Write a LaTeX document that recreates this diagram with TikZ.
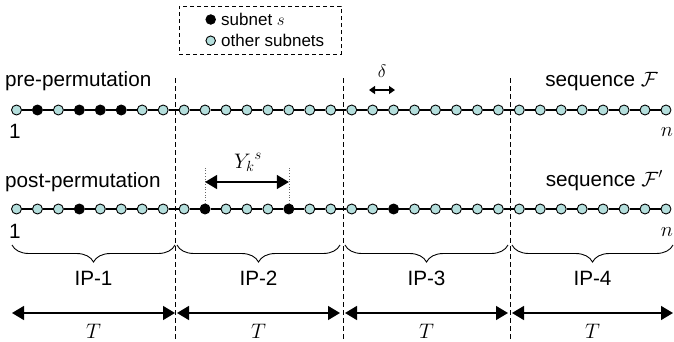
\RequirePackage{fix-cm}
\documentclass[tikz,border=0pt]{standalone}
\usepackage{fontspec}
\setmainfont{Liberation Sans}
\usetikzlibrary{arrows.meta,decorations.pathreplacing}
\definecolor{cyanfill}{RGB}{180,222,220}
\begin{document}
\begin{tikzpicture}[x=1pt,y=-1pt,
  dot/.style={circle,draw=black,line width=0.9pt,fill=cyanfill,minimum size=10pt,inner sep=0pt},
  bdot/.style={dot,fill=black},
  lbl/.style={font=\fontsize{20.7}{24}\selectfont,inner sep=0pt},
  small/.style={font=\fontsize{17}{20}\selectfont,inner sep=0pt},
  tlbl/.style={font=\fontsize{21}{23}\selectfont,inner sep=0pt},
  ylbl/.style={font=\fontsize{21}{23}\selectfont,inner sep=0pt},
  chain/.style={line width=1.2pt},
  dashline/.style={line width=0.9pt,dash pattern=on 5pt off 3pt},
  bigarrow/.style={{Triangle[length=12pt,width=14pt]}-{Triangle[length=12pt,width=14pt]},line width=1.4pt},
  smallarrow/.style={{Triangle[length=6pt,width=8pt]}-{Triangle[length=6pt,width=8pt]},line width=1.3pt},
  bracestyle/.style={decorate,decoration={brace,mirror,amplitude=17pt},line width=0.9pt},
  guide/.style={dotted,line width=0.7pt,black!60}]
\useasboundingbox (0,0) rectangle (674,341);

% dashed separators
\foreach \k/\xx in {1/175,2/343,3/510.5} {
  \coordinate (dtop\k) at (\xx,78);
  \coordinate (dbot\k) at (\xx,341);
  \draw[dashline] (dtop\k) -- (dbot\k);
}

% rows of subnets
\foreach \i in {1,...,32} {
  \def\st{dot}
  \foreach \b in {2,4,5,6} {\ifnum\i=\b\relax\gdef\st{bdot}\fi}
  \node[\st] (r1c\i) at ({16.5+(\i-1)*20.95},110) {};
  \gdef\st{dot}
}
\foreach \i in {1,...,32} {
  \def\st{dot}
  \foreach \b in {4,10,14,19} {\ifnum\i=\b\relax\gdef\st{bdot}\fi}
  \node[\st] (r2c\i) at ({16.5+(\i-1)*20.95},209) {};
  \gdef\st{dot}
}
\foreach \i [evaluate=\i as \j using int(\i+1)] in {1,...,31} {
  \draw[chain] (r1c\i) -- (r1c\j);
  \draw[chain] (r2c\i) -- (r2c\j);
}

% legend
\node[draw,dash pattern=on 4pt off 3pt,line width=0.9pt,minimum width=162pt,minimum height=48pt,inner sep=0pt] (legend) at (260,30) {};
\node[bdot,minimum size=9.5pt] (ldot1) at (210.7,19.5) {};
\node[dot,minimum size=9.5pt] (ldot2) at (210.7,40.7) {};
\node[small,anchor=base west] (ltxt1) at (221,25) {subnet $s$};
\node[small,anchor=base west] (ltxt2) at (221,46) {other subnets};

% row labels
\node[lbl,anchor=base west] (pre) at (5,86) {pre-permutation};
\node[lbl,anchor=base west] (post) at (5,187) {post-permutation};
\node[lbl,anchor=base east] (seqF) at (658,86) {sequence $\mathcal{F}$};
\node[lbl,anchor=base east] (seqF2) at (663,186) {sequence $\mathcal{F}'$};
\node[lbl,anchor=base] (one1) at (15,138) {1};
\node[lbl,anchor=base] (one2) at (15,238) {1};
\node[lbl,anchor=base] (n1) at (667,136) {$n$};
\node[lbl,anchor=base] (n2) at (667,236) {$n$};

% delta
\coordinate (dl) at (369,90);
\coordinate (dr) at (395,90);
\draw[smallarrow] (dl) -- (dr);
\node[small,font=\fontsize{18}{20}\selectfont,anchor=base] (delta) at (382,77) {$\delta$};

% Y_k^s
\coordinate (yl) at (r2c10 |- 0,182);
\coordinate (yr) at (r2c14 |- 0,182);
\coordinate (gl) at (r2c10 |- 0,166);
\coordinate (gr) at (r2c14 |- 0,166);
\draw[guide] (r2c10.north) -- (gl);
\draw[guide] (r2c14.north) -- (gr);
\draw[bigarrow] (yl) -- (yr);
\node[ylbl,anchor=base] (ylab) at (248,168) {${Y_k}^{s}$};

% braces, IP labels, T arrows
\foreach \k/\a/\b in {1/12/175,2/177/340,3/345/508,4/512/673} {
  \coordinate (bl\k) at (\a,245);
  \coordinate (br\k) at (\b,245);
  \draw[bracestyle] (bl\k) -- (br\k);
  \node[lbl,anchor=base] (ip\k) at ({(\a+\b)/2},285) {IP-\k};
  \coordinate (tl\k) at (\a,313);
  \coordinate (tr\k) at (\b,313);
  \draw[bigarrow] (tl\k) -- (tr\k);
  \node[tlbl,anchor=base] (T\k) at ({(\a+\b)/2},338) {$T$};
}
\end{tikzpicture}
\end{document}
